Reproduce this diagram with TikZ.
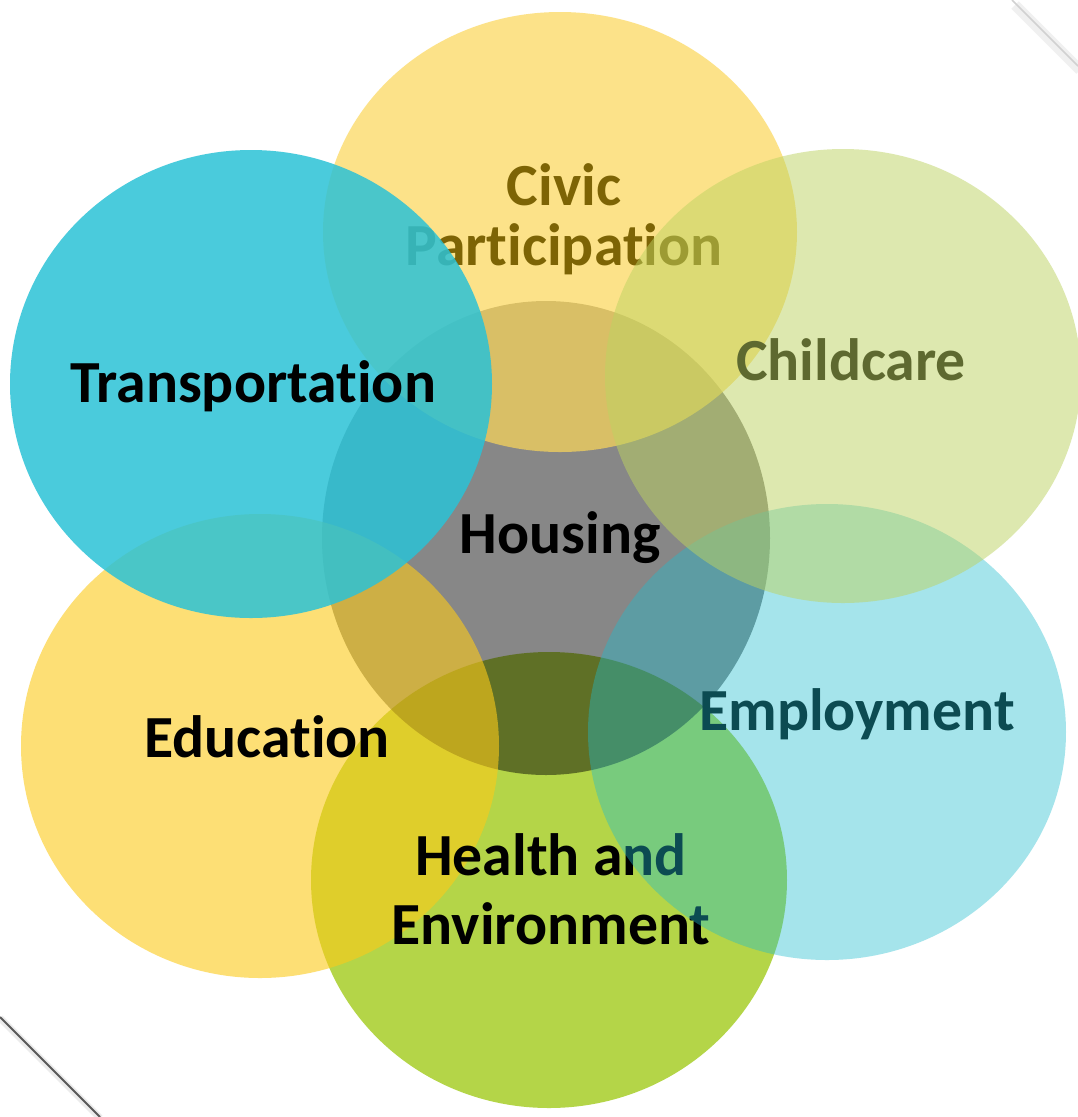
\documentclass[tikz,border=0pt]{standalone}
\usepackage{fontspec}
\usepackage{xcolor}
\usepackage{tikz}
\newfontfamily\calib[Ligatures={NoCommon,NoRare,NoContextual}]{Carlito}
\definecolor{healthgrn}{RGB}{180,213,72}
\definecolor{eduyel}{RGB}{252,202,25}
\definecolor{employblu}{RGB}{30,188,205}
\definecolor{civicyel}{RGB}{252,215,88}
\definecolor{civictxt}{RGB}{125,100,5}
\definecolor{childgrn}{RGB}{189,211,97}
\definecolor{transblu}{RGB}{43,194,214}

\begin{document}
\begin{tikzpicture}[x=0.02cm,y=-0.02cm,
  lbl/.style={font=\calib\bfseries\fontsize{34}{39}\selectfont,inner sep=0pt,align=center}]
  \fill[white] (0,0) rectangle (1078,1117);
  \useasboundingbox (0,0) rectangle (1078,1117);
  % page edges
  \draw[black!6,line width=6pt] (1015,5)--(1080,70);
  \draw[black!18,line width=1pt] (1012,0)--(1078,66);
  \draw[black!8,line width=4pt] (0,1018)--(100,1118);
  \draw[black!65,line width=1.1pt] (0,1017)--(100,1117);
  % bubbles, bottom ones first
  \fill[healthgrn] (549,880) ellipse [x radius=238, y radius=228];
  \fill[black,opacity=0.47] (546,538) ellipse [x radius=224, y radius=237];
  \fill[eduyel,opacity=0.6] (260,746) ellipse [x radius=239, y radius=232];
  \node[lbl] (health) at (551,889) {Health and\\Environment};
  \node[lbl,anchor=base] (employ) at (857,730) {Employment};
  \fill[employblu,opacity=0.4] (827,732) ellipse [x radius=239, y radius=228];
  \fill[civicyel,opacity=0.7] (560,232) ellipse [x radius=237, y radius=220];
  \node[lbl,text=civictxt,font=\calib\bfseries\fontsize{34}{34}\selectfont] (civic) at (564,219) {Civic\\Participation};
  \node[lbl,anchor=base] (child) at (851,380) {Childcare};
  \fill[childgrn,opacity=0.5] (843,376) ellipse [x radius=238, y radius=227];
  \fill[transblu,opacity=0.85] (251,384) ellipse [x radius=241, y radius=234];
  % labels on top
  \node[lbl,anchor=base] (trans) at (253,402) {Transportation};
  \node[lbl,anchor=base] (housing) at (560,553) {Housing};
  \node[lbl,anchor=base] (edu) at (267,757) {Education};
\end{tikzpicture}
\end{document}
